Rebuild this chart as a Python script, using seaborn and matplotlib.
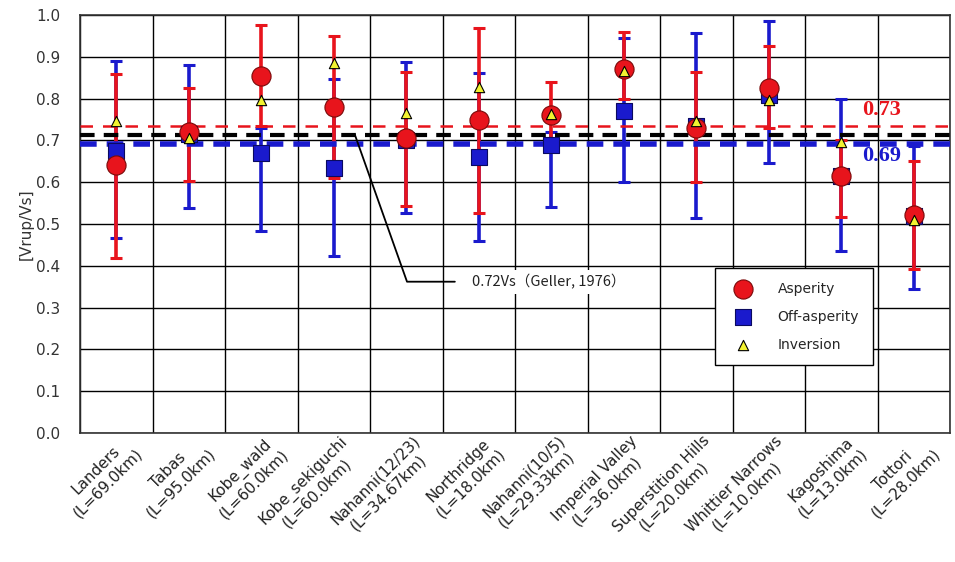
import numpy as np
import pandas as pd
import seaborn as sns
import matplotlib.pyplot as plt
import matplotlib.transforms as mtransforms

events = ['Landers', 'Tabas', 'Kobe_wald', 'Kobe_sekiguchi', 'Nahanni(12/23)', 'Northridge',
          'Nahanni(10/5)', 'Imperial Valley', 'Superstition Hills', 'Whittier Narrows',
          'Kagoshima', 'Tottori']
lengths = ['69.0', '95.0', '60.0', '60.0', '34.67', '18.0', '29.33', '36.0', '20.0', '10.0', '13.0', '28.0']

asp_mean = [0.640, 0.720, 0.855, 0.780, 0.705, 0.750, 0.761, 0.872, 0.730, 0.825, 0.615, 0.522]
asp_low = [0.418, 0.603, 0.735, 0.609, 0.544, 0.527, 0.690, 0.800, 0.601, 0.729, 0.517, 0.392]
asp_high = [0.859, 0.826, 0.976, 0.950, 0.864, 0.970, 0.840, 0.960, 0.864, 0.926, 0.700, 0.651]

off_mean = [0.675, 0.715, 0.669, 0.633, 0.700, 0.660, 0.689, 0.771, 0.735, 0.809, 0.615, 0.520]
off_low = [0.467, 0.538, 0.483, 0.423, 0.526, 0.460, 0.540, 0.601, 0.514, 0.645, 0.436, 0.344]
off_high = [0.891, 0.880, 0.730, 0.846, 0.888, 0.862, 0.720, 0.944, 0.956, 0.986, 0.799, 0.687]

inversion = [0.747, 0.705, 0.797, 0.884, 0.765, 0.827, 0.762, 0.867, 0.747, 0.797, 0.697, 0.510]

ref_asp, ref_geller, ref_off = 0.734, 0.714, 0.691

RED = '#e8141c'
BLUE = '#1a1acd'

sns.set_style('white')
plt.rcParams['font.family'] = ['DejaVu Sans']

x = np.arange(len(events))
df = pd.DataFrame({'x': x, 'asp': asp_mean, 'off': off_mean, 'inv': inversion})

fig = plt.figure(figsize=(9.55, 5.62), dpi=100)
ax = fig.add_axes([0.0838, 0.2295, 0.9110, 0.7438])

# error bars (blue under red)
am, om = np.array(asp_mean), np.array(off_mean)
ax.errorbar(x, om, yerr=[om - np.array(off_low), np.array(off_high) - om], fmt='none',
            ecolor=BLUE, elinewidth=2.6, capsize=4, capthick=2.2, zorder=3)
ax.errorbar(x, am, yerr=[am - np.array(asp_low), np.array(asp_high) - am], fmt='none',
            ecolor=RED, elinewidth=2.6, capsize=4, capthick=2.2, zorder=4)

# reference lines
ax.axhline(ref_asp, color=RED, lw=1.8, ls=(0, (5, 4)), zorder=5)
ax.axhline(ref_geller, color='black', lw=3, ls=(0, (3.5, 2.2)), zorder=5)
ax.axhline(ref_off, color=BLUE, lw=4, ls=(0, (3, 1.8)), zorder=5)

sns.scatterplot(data=df, x='x', y='off', marker='s', s=140, color=BLUE, edgecolor='#0a0a60',
                linewidth=0.8, label='Off-asperity', ax=ax, zorder=6)
sns.scatterplot(data=df, x='x', y='asp', marker='o', s=190, color=RED, edgecolor='#7a0a0a',
                linewidth=0.8, label='Asperity', ax=ax, zorder=7)
sns.scatterplot(data=df, x='x', y='inv', marker='^', s=55, color='#f2f230', edgecolor='black',
                linewidth=0.8, label='Inversion', ax=ax, zorder=8)

ax.set_xlim(-0.5, len(events) - 0.5)
ax.set_ylim(0, 1.0)
ax.set_yticks(np.arange(0, 1.01, 0.1))
ax.set_yticklabels([f'{v:.1f}' for v in np.arange(0, 1.01, 0.1)], fontsize=11, color='#333333')
ax.set_xticks(x)
ax.set_xticks(np.arange(-0.5, len(events), 1), minor=True)
ax.set_xticklabels([f'{e}\n(L={l}km)' for e, l in zip(events, lengths)], rotation=45,
                   ha='right', va='top', rotation_mode='anchor', multialignment='center',
                   fontsize=11, color='#222222')
ax.tick_params(axis='both', which='both', length=0)
ax.tick_params(axis='x', pad=0)
ax.tick_params(axis='y', pad=14)
shift = mtransforms.ScaledTranslation(0.06, 0.0, fig.dpi_scale_trans)
for lab in ax.get_xticklabels():
    lab.set_transform(lab.get_transform() + shift)
ax.grid(True, axis='y', color='black', lw=1)
ax.grid(True, axis='x', which='minor', color='black', lw=1)
ax.grid(False, axis='x', which='major')
ax.set_axisbelow(True)
for s in ax.spines.values():
    s.set_color('#333333')
    s.set_linewidth(1.2)
ax.set_xlabel('')
ax.set_ylabel('[Vrup/Vs]', fontsize=11, color='#333333', labelpad=2)

ax.text(10.29, 0.773, '0.73', color=RED, fontsize=16, fontweight='bold',
        family='Liberation Serif', va='center', zorder=9)
ax.text(10.29, 0.662, '0.69', color=BLUE, fontsize=16, fontweight='bold',
        family='Liberation Serif', va='center', zorder=9)

# Geller leader line and label
ax.plot([3.29, 4.01, 4.67], [ref_geller, 0.362, 0.362], color='black', lw=1.3, zorder=9)
ax.text(4.9, 0.362, '0.72Vs（Geller, 1976）', fontsize=10.5, va='center', color='#222222',
        family=['Noto Sans CJK JP', 'DejaVu Sans'], zorder=9,
        bbox=dict(facecolor='white', edgecolor='none', pad=3))

handles, labels = ax.get_legend_handles_labels()
order = [labels.index('Asperity'), labels.index('Off-asperity'), labels.index('Inversion')]
leg = ax.legend([handles[i] for i in order], [labels[i] for i in order],
                loc='upper left', bbox_to_anchor=(0.730, 0.395), fancybox=False,
                framealpha=1, edgecolor='black', fontsize=10, labelspacing=1.0,
                handletextpad=1.5, borderpad=1.0, borderaxespad=0)
leg.get_frame().set_linewidth(1.0)
leg.set_zorder(10)

fig.savefig('out.png', dpi=100)
